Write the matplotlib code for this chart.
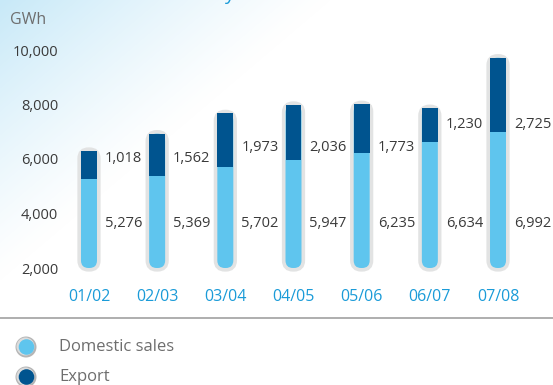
import numpy as np
import matplotlib
matplotlib.use("Agg")
import matplotlib.pyplot as plt
from matplotlib.patches import FancyBboxPatch, Rectangle, Circle

plt.rcParams['font.family'] = ['Open Sans', 'DejaVu Sans']

# ---- data ----
years = ["01/02", "02/03", "03/04", "04/05", "05/06", "06/07", "07/08"]
domestic = [5276, 5369, 5702, 5947, 6235, 6634, 6992]
export = [1018, 1562, 1973, 2036, 1773, 1230, 2725]
yticks = [2000, 4000, 6000, 8000, 10000]

# ---- layout ----
W, H = 553, 385
label_y_domestic = 3650
label_y_export = [6000, 6000, 6440, 6440, 6440, 7250, 7250]
base = 2000

c_dom = "#5fc5ee"
c_exp = "#00548f"
c_ring = "#e2e3e3"
c_text = "#3a3a3a"
c_gray = "#6e6e6e"
c_blue = "#1a9bd8"

fig = plt.figure(figsize=(W / 100, H / 100), dpi=100)

# background layer in pixel coordinates
bg = fig.add_axes([0, 0, 1, 1], zorder=0)
bg.set_xlim(0, W)
bg.set_ylim(H, 0)
bg.axis("off")
yy, xx = np.mgrid[0:H, 0:W]
t = np.clip(1 - (xx / 330 + yy / 280), 0, 1) ** 1.2
corner = np.array([200, 233, 248]) / 255
img = 1 - t[..., None] * (1 - corner)
bg.imshow(img, extent=(0, W, H, 0), aspect="auto", interpolation="bilinear")

# title line sits just above the top edge; only its descender shows
bg.text(229, 0.5, "y", color=c_blue, fontsize=14, ha="center", va="baseline")
bg.text(10, 20, "GWh", color=c_gray, fontsize=11.5, ha="left", va="center")
bg.plot([0, W], [318, 318], color="#a8a8a8", lw=1.3, solid_capstyle="butt")

for cy, col, name in [(347, c_dom, "Domestic sales"), (377, c_exp, "Export")]:
    bg.add_patch(Circle((26, cy), 10.5, facecolor="#b5b5b5", edgecolor="none"))
    bg.add_patch(Circle((25.5, cy - 0.5), 9.0, facecolor="#dcdcdc", edgecolor="none"))
    bg.add_patch(Circle((26.5, cy), 7.8, facecolor=col, edgecolor="none"))
    bg.text(59, cy, name, color=c_gray, fontsize=12, ha="left", va="center")

# main chart
x0 = 89 - 34.1
x1 = 498 + 34.1
ax = fig.add_axes([x0 / W, (H - 268) / H, (x1 - x0) / W, 218 / H], zorder=1)
ax.patch.set_alpha(0)
ax.set_xlim(-0.5, len(years) - 0.5)
ax.set_ylim(base, 10000)
for s in ax.spines.values():
    s.set_visible(False)

bw = 16 / 68.2          # bar width in data units
px_y = 8000 / 218       # data units per pixel (vertical)
px_x = 1 / 68.2
r = 7.5 * px_x
aspect = px_y / px_x

for i, (d, e) in enumerate(zip(domestic, export)):
    total = d + e
    shape = dict(boxstyle=f"round,pad=0,rounding_size={r}", mutation_aspect=aspect)
    ring = FancyBboxPatch((i - bw / 2, base), bw, total - base, facecolor=c_ring,
                          edgecolor=c_ring, lw=5.2, clip_on=False, zorder=2, **shape)
    ax.add_patch(ring)
    bar = FancyBboxPatch((i - bw / 2, base), bw, total - base, facecolor=c_dom,
                         edgecolor="none", clip_on=False, zorder=3, **shape)
    ax.add_patch(bar)
    top = Rectangle((i - bw / 2, d), bw, e, facecolor=c_exp, edgecolor="none",
                    clip_on=False, zorder=4)
    ax.add_patch(top)
    top.set_clip_path(bar)
    ax.annotate(f"{d:,}", (i, label_y_domestic), xytext=(11.5, 0),
                textcoords="offset points", ha="left", va="center",
                color=c_text, fontsize=10.5)
    ax.annotate(f"{e:,}", (i, label_y_export[i]), xytext=(11.5, 0),
                textcoords="offset points", ha="left", va="center",
                color=c_text, fontsize=10.5)

ax.set_xticks(range(len(years)))
ax.set_xticklabels(years, color=c_blue, fontsize=11.5)
ax.set_yticks(yticks)
ax.set_yticklabels([f"{v:,}" for v in yticks], color=c_text, fontsize=10.5)
ax.tick_params(axis="x", length=0, pad=15)
ax.tick_params(axis="y", length=0, pad=-2.5)

fig.savefig("out.png", dpi=100)
